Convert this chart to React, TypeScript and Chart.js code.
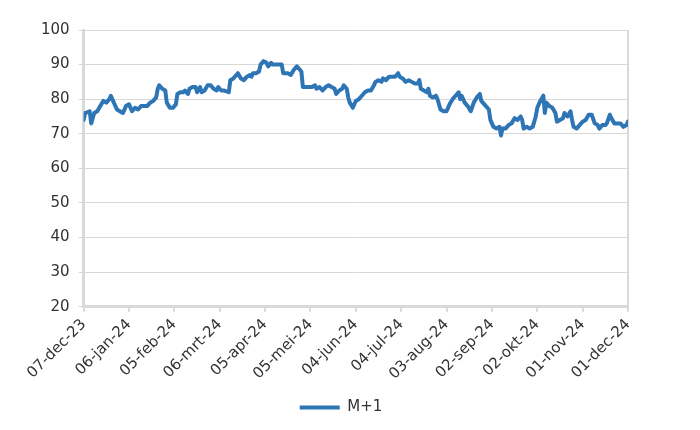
import React, { useEffect, useRef } from "react";
import { Chart, registerables } from "chart.js";

Chart.register(...registerables);

// Days since 07-dec-23
const dayOffsets = [
  0, 1, 4, 5, 7, 9, 11, 13, 15, 17, 18, 20, 22, 24, 26, 28, 30, 32, 34, 36,
  38, 40, 42, 44, 46, 48, 49, 50, 52, 54, 55, 57, 59, 61, 62, 64, 66, 67, 69, 70,
  72, 74, 75, 77, 78, 80, 82, 84, 86, 88, 89, 91, 93, 96, 97, 99, 101, 102, 104, 106,
  108, 110, 111, 112, 114, 116, 117, 119, 121, 122, 124, 125, 127, 129, 131, 132, 133, 135, 137, 139,
  141, 143, 144, 145, 147, 149, 151, 153, 154, 156, 158, 160, 162, 164, 166, 167, 169, 171, 172, 174,
  175, 176, 178, 180, 182, 184, 186, 188, 190, 192, 193, 195, 197, 198, 200, 202, 204, 206, 208, 209,
  211, 213, 215, 217, 219, 221, 222, 223, 225, 227, 228, 229, 231, 233, 234, 236, 238, 240, 242, 244,
  246, 248, 249, 250, 252, 254, 256, 258, 260, 262, 263, 264, 266, 268, 269, 271, 273, 275, 276, 277,
  279, 281, 283, 285, 287, 289, 290, 291, 293, 295, 297, 299, 300, 302, 304, 305, 306, 308, 310, 312,
  313, 315, 317, 318, 320, 322, 323, 324, 326, 328, 330, 332, 334, 336, 338, 340, 341, 343, 345, 346,
  348, 349, 351, 353, 355, 357, 359, 360,
];

const values = [
  74, 76, 76.5, 73, 76, 76.5, 78, 79.5, 79, 80, 81, 79, 77, 76.5, 76, 78, 78.5, 76.5, 77.5, 77,
  78, 78, 78, 79, 79.5, 80.5, 83, 84, 83, 82.5, 79, 77.5, 77.5, 78.5, 81.5, 82, 82, 82.5, 81.5, 83,
  83.5, 83.5, 82, 83.5, 82, 82.5, 84, 84, 83, 82.5, 83.5, 82.5, 82.5, 82, 85.5, 86, 87, 87.5, 86, 85.5,
  86.5, 87, 86.5, 87.5, 87.5, 88, 90, 91, 90.5, 89.5, 90.5, 90, 90, 90, 90, 87.5, 87.5, 87.5, 87, 88.5,
  89.5, 88.5, 88, 83.5, 83.5, 83.5, 83.5, 84, 83, 83.5, 82.5, 83.5, 84, 83.5, 83, 81.5, 82.5, 83, 84, 83,
  80.5, 79, 77.5, 79.5, 80, 81, 82, 82.5, 82.5, 84, 85, 85.5, 85, 86, 85.5, 86.5, 86.5, 86.5, 87.5, 86.5,
  86, 85, 85.5, 85, 84.5, 84.5, 85.5, 83, 82.5, 82, 83, 81, 80.5, 81, 80, 77, 76.5, 76.5, 78.5, 80,
  81, 82, 80, 81, 79, 78, 76.5, 79, 80.5, 81.5, 79.5, 79, 78, 77, 74, 72, 71.5, 72, 69.5, 71.5,
  71.5, 72.5, 73, 74.5, 74, 75, 74, 71.5, 72, 71.5, 72, 75, 77.5, 79.5, 81, 76, 79, 78, 77.5, 76,
  73.5, 74, 74.5, 76, 75, 76.5, 74, 72, 71.5, 72.5, 73.5, 74, 75.5, 75.5, 73, 72.5, 71.5, 72.5, 72.5, 73,
  75.5, 74.5, 73, 73, 73, 72, 72.5, 73.5,
];

const seriesName = "M+1";
const monthNames = ["jan", "feb", "mrt", "apr", "mei", "jun", "jul", "aug", "sep", "okt", "nov", "dec"];
const tickStepDays = 30;
const xMin = 0;
const xMax = 360;
const yMin = 20;
const yMax = 100;
const yStep = 10;

function formatDay(offset: number): string {
  const d = new Date(2023, 11, 7 + offset);
  const dd = String(d.getDate()).padStart(2, "0");
  const yy = String(d.getFullYear() % 100).padStart(2, "0");
  return `${dd}-${monthNames[d.getMonth()]}-${yy}`;
}

const legendShift = {
  id: "legendShift",
  afterLayout(chart: any) {
    const l = chart.legend;
    if (l) {
      l.left += 11;
      l.right += 11;
      l.top -= 2;
      l.bottom -= 2;
    }
  },
};

export default function App() {
  const ref = useRef<HTMLCanvasElement | null>(null);

  useEffect(() => {
    if (!ref.current) return;
    const font = { family: "'DejaVu Sans', sans-serif", size: 15 };
    const chart = new Chart(ref.current, {
      type: "line",
      data: {
        datasets: [
          {
            label: seriesName,
            data: dayOffsets.map((d, i) => ({ x: d, y: values[i] })),
            borderColor: "#2E75B6",
            backgroundColor: "#2E75B6",
            borderWidth: 4,
            pointRadius: 0,
            pointStyle: "line",
            tension: 0,
            borderJoinStyle: "round",
            borderCapStyle: "round",
          },
        ],
      },
      options: {
        animation: false,
        responsive: false,
        maintainAspectRatio: false,
        layout: { padding: { top: 30, right: 72, left: 32, bottom: 3 } },
        plugins: {
          tooltip: { enabled: false },
          legend: {
            position: "bottom",
            labels: {
              usePointStyle: true,
              pointStyleWidth: 40,
              color: "#333",
              font,
              padding: 15,
            },
          },
        },
        scales: {
          x: {
            type: "linear",
            min: xMin,
            max: xMax,
            border: { color: "#d9d9d9", width: 3 },
            grid: {
              drawOnChartArea: true,
              color: (ctx: any) => (ctx.tick && ctx.tick.value === xMax ? "#d9d9d9" : "rgba(0,0,0,0)"),
              lineWidth: 2,
              tickColor: "#d9d9d9",
              tickLength: 5,
            },
            ticks: {
              stepSize: tickStepDays,
              minRotation: 45,
              maxRotation: 45,
              autoSkip: false,
              color: "#333",
              font,
              padding: 4,
              callback: (v: any) => formatDay(Number(v)),
            },
          },
          y: {
            min: yMin,
            max: yMax,
            border: { color: "#d9d9d9", width: 3 },
            grid: { color: "#d9d9d9", lineWidth: 1, tickColor: "#d9d9d9", tickLength: 5 },
            ticks: { stepSize: yStep, color: "#333", font, padding: 9 },
          },
        },
      },
      plugins: [legendShift],
    } as any);
    return () => chart.destroy();
  }, []);

  return (
    <div style={{ position: "fixed", left: 0, top: 0, width: 700, height: 430, background: "#fff" }}>
      <canvas ref={ref} width={700} height={430} style={{ width: 700, height: 430 }} />
    </div>
  );
}
